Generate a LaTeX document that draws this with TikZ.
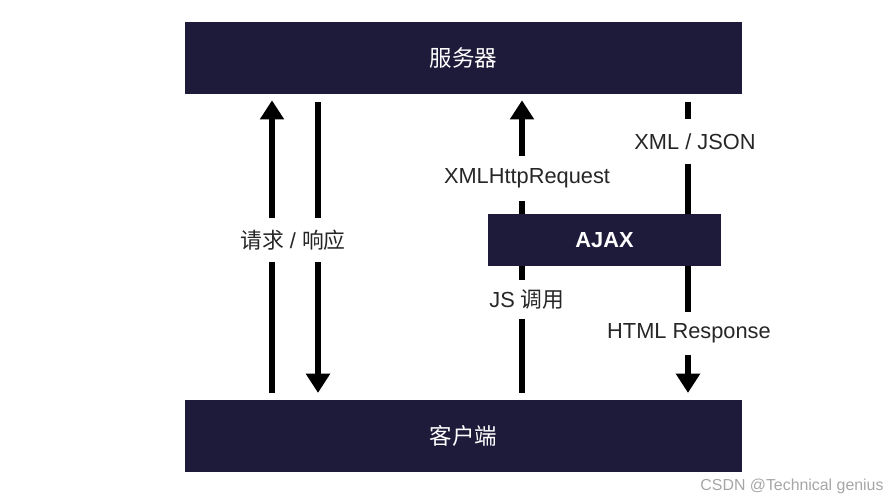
\documentclass[tikz,border=0pt]{standalone}
\usepackage{fontspec}
\setmainfont{Liberation Sans}
\newfontfamily\cjk{Noto Sans CJK SC}
\usepackage{tikz}
\usepackage{xcolor}
\usetikzlibrary{arrows.meta}
\definecolor{boxnavy}{RGB}{30,26,58}

\begin{document}
\begin{tikzpicture}[x=0.025cm, y=-0.025cm]
	\tikzstyle{box} = [fill=boxnavy, text=white, inner sep=0pt, minimum width=13.925cm, minimum height=1.8cm, font=\cjk\fontsize{16}{18}\selectfont]
\tikzstyle{lbl} = [text=black!85, inner sep=0pt, minimum height=1.1cm, font=\fontsize{15.5}{18}\selectfont]
\tikzstyle{seg} = [line width=0.15cm]
\tikzstyle{line} = [seg, -{Triangle[width=0.58cm,length=0.48cm]}]
\useasboundingbox (0,0) rectangle (888,500);
\coordinate(reqx) at (272,0);
\coordinate(respx) at (318,0);
\coordinate(jsx) at (522,0);
\coordinate(retx) at (688,0);
\node(server)[box] at (463.5,58) {服务器};
\node(client)[box] at (463.5,436) {客户端};
\node(ajax)[box, minimum width=5.825cm, minimum height=1.3cm, font=\bfseries\fontsize{15.5}{18}\selectfont] at (604.5,240) {AJAX};
\node(rr)[lbl] at (293,240) {{\cjk 请求} / {\cjk 响应}};
\node(xhr)[lbl] at (527,178.5) {XMLHttpRequest};
\node(json)[lbl] at (695,141.5) {XML / JSON};
\node(js)[lbl, minimum height=0.98cm] at (527,299.5) {JS {\cjk 调用}};
\node(html)[lbl, minimum height=1.08cm] at (689,333.5) {HTML Response};
% left pair
\draw[seg, shorten <=0.17cm] (client.north -| reqx) -- (rr.south -| reqx);
\draw[line, shorten >=0.15cm] (rr.north -| reqx) -- (server.south -| reqx);
\draw[seg, shorten <=0.2cm] (server.south -| respx) -- (rr.north -| respx);
\draw[line, shorten >=0.17cm] (rr.south -| respx) -- (client.north -| respx);
% through ajax
\draw[seg, shorten <=0.17cm] (client.north -| jsx) -- (js.south -| jsx);
\draw[seg] (js.north -| jsx) -- (ajax.south -| jsx);
\draw[seg] (ajax.north -| jsx) -- (xhr.south -| jsx);
\draw[line, shorten >=0.15cm] (xhr.north -| jsx) -- (server.south -| jsx);
\draw[seg, shorten <=0.2cm] (server.south -| retx) -- (json.north -| retx);
\draw[seg] (json.south -| retx) -- (ajax.north -| retx);
\draw[seg] (ajax.south -| retx) -- (html.north -| retx);
\draw[line, shorten >=0.17cm] (html.south -| retx) -- (client.north -| retx);
\node(mark)[text=black!35, font=\fontsize{11.3}{13}\selectfont] at (792,486) {CSDN @Technical genius};
  \end{tikzpicture}
\end{document}
